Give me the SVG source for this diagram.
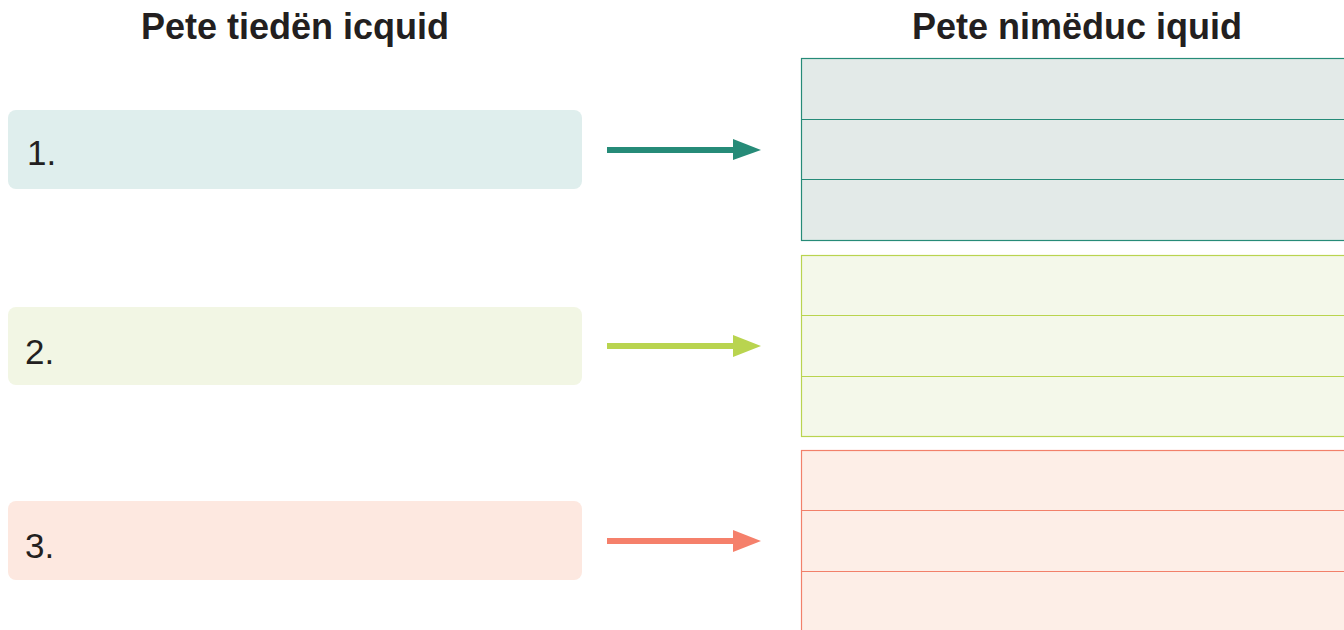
<svg xmlns="http://www.w3.org/2000/svg" width="1344" height="630" viewBox="0 0 1344 630">
<style>
.h{font-family:"Liberation Sans",Arial,sans-serif;font-weight:bold;font-size:36px;fill:#231f20;text-anchor:middle}
.n{font-family:"Liberation Sans",Arial,sans-serif;font-size:35px;fill:#231f20}
.c1{fill:#268b78}.c2{fill:#b9d44f}.c3{fill:#f5806b}
</style>
<rect width="1344" height="630" fill="#ffffff"/>
<text class="h" x="295" y="39">Pete tiedën icquid</text>
<text class="h" x="1077" y="39">Pete nimëduc iquid</text>
<g id="item1"><rect x="8" y="110" width="574" height="79" rx="8" fill="#dfeeed"/><text class="n" x="27" y="165">1.</text></g>
<g id="item2"><rect x="8" y="307" width="574" height="78" rx="8" fill="#f2f6e4"/><text class="n" x="25" y="364">2.</text></g>
<g id="item3"><rect x="8" y="501" width="574" height="79" rx="8" fill="#fde8e0"/><text class="n" x="25" y="558">3.</text></g>
<g id="connectors">
<rect class="c1" x="607" y="147" width="128" height="6"/><polygon class="c1" points="733,139 761,150 733,160"/>
<rect class="c2" x="607" y="343" width="128" height="6"/><polygon class="c2" points="733,335 761,346 733,357"/>
<rect class="c3" x="607" y="538" width="128" height="6"/><polygon class="c3" points="733,530 761,541 733,552"/>
</g>
<g id="lines1" fill="#e3eae8" stroke="#268b78" stroke-width="1.2">
<rect x="801.5" y="58.5" width="560" height="182"/>
<line x1="801.5" y1="119.5" x2="1344" y2="119.5"/>
<line x1="801.5" y1="179.5" x2="1344" y2="179.5"/>
</g>
<g id="lines2" fill="#f4f8ea" stroke="#b9d44f" stroke-width="1.2">
<rect x="801.5" y="255.5" width="560" height="181"/>
<line x1="801.5" y1="315.5" x2="1344" y2="315.5"/>
<line x1="801.5" y1="376.5" x2="1344" y2="376.5"/>
</g>
<g id="lines3" fill="#fdeee7" stroke="#f2806a" stroke-width="1.2">
<rect x="801.5" y="450.5" width="560" height="200"/>
<line x1="801.5" y1="510.5" x2="1344" y2="510.5"/>
<line x1="801.5" y1="571.5" x2="1344" y2="571.5"/>
</g>
</svg>
